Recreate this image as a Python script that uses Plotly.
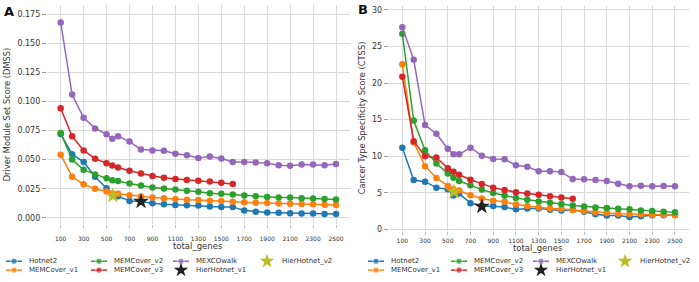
import plotly.graph_objects as go

W, H = 699, 282

genes = [100, 200, 300, 400, 500, 550, 600, 700, 800, 900, 1000, 1100, 1200, 1300,
         1400, 1500, 1600, 1700, 1800, 1900, 2000, 2100, 2200, 2300, 2400, 2500]
genes_v3 = genes[:17]

# Panel A: DMSS
hotnet2_A = [0.0720, 0.0545, 0.0480, 0.0353, 0.0255, 0.0198, 0.0186, 0.0145, 0.0140, 0.0125,
             0.0117, 0.0111, 0.0108, 0.0105, 0.0097, 0.0094, 0.0094, 0.0063, 0.0052, 0.0046,
             0.0043, 0.0040, 0.0038, 0.0038, 0.0032, 0.0032]
memcover_v1_A = [0.0542, 0.0353, 0.0288, 0.0249, 0.0226, 0.0212, 0.0206, 0.0195, 0.0184, 0.0175,
                 0.0169, 0.0161, 0.0155, 0.0153, 0.0147, 0.0144, 0.0138, 0.0133, 0.0130, 0.0127,
                 0.0124, 0.0121, 0.0119, 0.0116, 0.0113, 0.0110]
memcover_v2_A = [0.0729, 0.0500, 0.0412, 0.0373, 0.0339, 0.0322, 0.0316, 0.0294, 0.0277, 0.0260,
                 0.0251, 0.0243, 0.0232, 0.0223, 0.0212, 0.0206, 0.0201, 0.0192, 0.0186, 0.0180,
                 0.0175, 0.0175, 0.0169, 0.0167, 0.0161, 0.0158]
memcover_v3_A = [0.0941, 0.0700, 0.0579, 0.0508, 0.0469, 0.0449, 0.0432, 0.0404, 0.0381, 0.0359,
                 0.0345, 0.0333, 0.0325, 0.0319, 0.0311, 0.0302, 0.0291]
mexcowalk_A = [0.1678, 0.1059, 0.0859, 0.0768, 0.0718, 0.0678, 0.0701, 0.0655, 0.0587, 0.0579,
               0.0576, 0.0551, 0.0537, 0.0514, 0.0526, 0.0510, 0.0480, 0.0480, 0.0475, 0.0469,
               0.0452, 0.0447, 0.0458, 0.0458, 0.0452, 0.0463]
hierhotnet_v1_A = ([800], [0.0141])
hierhotnet_v2_A = ([555], [0.0190])

# Panel B: CTSS
hotnet2_B = [11.17, 6.76, 6.53, 5.72, 5.50, 4.64, 4.91, 3.60, 3.24, 3.20, 3.06, 2.75, 2.88, 2.88,
             2.70, 2.60, 2.65, 2.43, 2.07, 1.90, 1.90, 1.71, 1.80, 1.94, 1.94, 1.98]
memcover_v1_B = [22.58, 11.89, 8.65, 7.03, 5.95, 5.50, 5.32, 4.68, 4.23, 3.92, 3.78, 3.42, 3.20,
                 3.02, 2.88, 2.79, 2.66, 2.52, 2.34, 2.25, 2.16, 2.12, 2.07, 2.03, 1.98, 1.94]
memcover_v2_B = [26.73, 14.88, 10.81, 9.01, 7.66, 7.07, 6.62, 6.04, 5.45, 5.00, 4.64, 4.32, 4.05,
                 3.83, 3.65, 3.47, 3.29, 3.15, 3.02, 2.93, 2.84, 2.75, 2.61, 2.52, 2.43, 2.34]
memcover_v3_B = [20.88, 12.07, 10.00, 9.82, 8.38, 7.88, 7.48, 6.80, 6.22, 5.72, 5.41, 5.09, 4.91,
                 4.73, 4.55, 4.37, 4.19]
mexcowalk_B = [27.63, 23.18, 14.26, 13.08, 11.04, 10.27, 10.27, 11.17, 10.09, 9.64, 9.60, 8.78,
               8.56, 7.97, 7.97, 7.84, 6.89, 6.85, 6.76, 6.62, 6.26, 5.90, 5.99, 5.90, 5.95, 5.90]
hierhotnet_v1_B = ([800], [3.15])
hierhotnet_v2_B = ([555], [5.14])

x_ticks = list(range(100, 2501, 200))
yA_ticks = [0.0, 0.025, 0.05, 0.075, 0.1, 0.125, 0.15, 0.175]
yB_ticks = [0, 5, 10, 15, 20, 25, 30]

names = ["Hotnet2", "MEMCover_v1", "MEMCover_v2", "MEMCover_v3", "MEXCOwalk",
         "HierHotnet_v1", "HierHotnet_v2"]
colors = {"Hotnet2": "#1f77b4", "MEMCover_v1": "#ff7f0e", "MEMCover_v2": "#2ca02c",
          "MEMCover_v3": "#d62728", "MEXCOwalk": "#9467bd", "HierHotnet_v1": "#222222",
          "HierHotnet_v2": "#bcbd22"}

FONT = "DejaVu Sans"
TXT = "#333333"
GRID = "#d8d8d8"

fig = go.Figure()

def add_panel(xa, ya, series, stars):
    for name, xs, ys in series:
        fig.add_trace(go.Scatter(x=xs, y=ys, mode="lines+markers", name=name,
                                 line=dict(color=colors[name], width=1.5),
                                 marker=dict(color=colors[name], size=6.5),
                                 xaxis=xa, yaxis=ya, showlegend=False, cliponaxis=False))
    for name, (xs, ys) in stars:
        fig.add_trace(go.Scatter(x=xs, y=ys, mode="markers", name=name,
                                 marker=dict(color=colors[name], size=12, symbol="star",
                                             line=dict(width=0)),
                                 xaxis=xa, yaxis=ya, showlegend=False, cliponaxis=False))

add_panel("x", "y",
          [("Hotnet2", genes, hotnet2_A), ("MEMCover_v1", genes, memcover_v1_A),
           ("MEMCover_v2", genes, memcover_v2_A), ("MEMCover_v3", genes_v3, memcover_v3_A),
           ("MEXCOwalk", genes, mexcowalk_A)],
          [("HierHotnet_v1", hierhotnet_v1_A), ("HierHotnet_v2", hierhotnet_v2_A)])
add_panel("x2", "y2",
          [("Hotnet2", genes, hotnet2_B), ("MEMCover_v1", genes, memcover_v1_B),
           ("MEMCover_v2", genes, memcover_v2_B), ("MEMCover_v3", genes_v3, memcover_v3_B),
           ("MEXCOwalk", genes, mexcowalk_B)],
          [("HierHotnet_v1", hierhotnet_v1_B), ("HierHotnet_v2", hierhotnet_v2_B)])

# Manual legends (matplotlib-style, 4 columns, column-major order)
legend_cols = {"A": [27, 112, 194, 280], "B": [389, 472, 554, 638]}
legend_rows = [265, 274]
annotations = []
for panel, cols in legend_cols.items():
    for i, name in enumerate(names):
        c, r = i // 2, i % 2
        tx, ty = cols[c], legend_rows[r]
        mx = tx - 13
        if name.startswith("HierHotnet"):
            fig.add_trace(go.Scatter(x=[mx], y=[ty], mode="markers", xaxis="x3", yaxis="y3",
                                     marker=dict(color=colors[name], size=11, symbol="star",
                                                 line=dict(width=0)),
                                     showlegend=False, hoverinfo="skip", cliponaxis=False))
        else:
            fig.add_trace(go.Scatter(x=[mx - 8, mx, mx + 8], y=[ty, ty, ty],
                                     mode="lines+markers", xaxis="x3", yaxis="y3",
                                     line=dict(color=colors[name], width=1.5),
                                     marker=dict(color=colors[name], size=[0, 6.5, 0]),
                                     showlegend=False, hoverinfo="skip", cliponaxis=False))
        annotations.append(dict(x=tx / W, y=1 - ty / H, xref="paper", yref="paper",
                                text=name, showarrow=False, xanchor="left", yanchor="middle",
                                font=dict(family=FONT, size=7, color=TXT)))

def label(x, y, text, size, angle=0, color=TXT):
    return dict(x=x / W, y=1 - y / H, xref="paper", yref="paper", text=text,
                textangle=angle, showarrow=False, xanchor="center", yanchor="middle",
                font=dict(family=FONT, size=size, color=color))

annotations += [
    label(7, 116, "Driver Module Set Score (DMSS)", 8.3, -90),
    label(362, 120, "Cancer Type Specificity Score (CTSS)", 8.3, -90),
    label(198, 250, "total_genes", 8.5),
    label(538, 252, "total_genes", 8.5),
    label(9, 12, "<b>A</b>", 13, 0, "#111111"),
    label(363, 10, "<b>B</b>", 13, 0, "#111111"),
]

common_x = dict(tickmode="array", tickvals=x_ticks, showgrid=True, gridcolor=GRID, gridwidth=1,
                zeroline=False, showline=False, ticks="outside", ticklen=3, tickcolor="#bbbbbb",
                tickfont=dict(family=FONT, size=6, color=TXT), range=[-20, 2620])
common_y = dict(showgrid=True, gridcolor=GRID, gridwidth=1, zeroline=False, showline=False,
                ticks="outside", ticklen=4, tickcolor="#999999",
                tickfont=dict(family=FONT, size=8, color=TXT))

fig.update_layout(
    width=W, height=H, margin=dict(l=0, r=0, t=0, b=0),
    paper_bgcolor="white", plot_bgcolor="rgba(0,0,0,0)",
    showlegend=False,
    xaxis=dict(common_x, domain=[46.9 / W, 349.8 / W], anchor="y", ticklabelstandoff=6),
    yaxis=dict(common_y, domain=[1 - 227 / H, 1 - 5 / H], anchor="x",
               range=[-0.0051, 0.1828], tickmode="array", tickvals=yA_ticks,
               ticktext=[f"{v:.3f}" for v in yA_ticks]),
    xaxis2=dict(common_x, domain=[388.7 / W, 688.6 / W], anchor="y2", ticklabelstandoff=1),
    yaxis2=dict(common_y, domain=[1 - 234 / H, 1 - 6 / H], anchor="x2",
                range=[-0.16, 30.54], tickmode="array", tickvals=yB_ticks),
    xaxis3=dict(domain=[0, 1], range=[0, W], visible=False, anchor="y3", fixedrange=True),
    yaxis3=dict(domain=[0, 1], range=[H, 0], visible=False, anchor="x3", fixedrange=True),
    annotations=annotations,
)

fig.write_html("out.html")
